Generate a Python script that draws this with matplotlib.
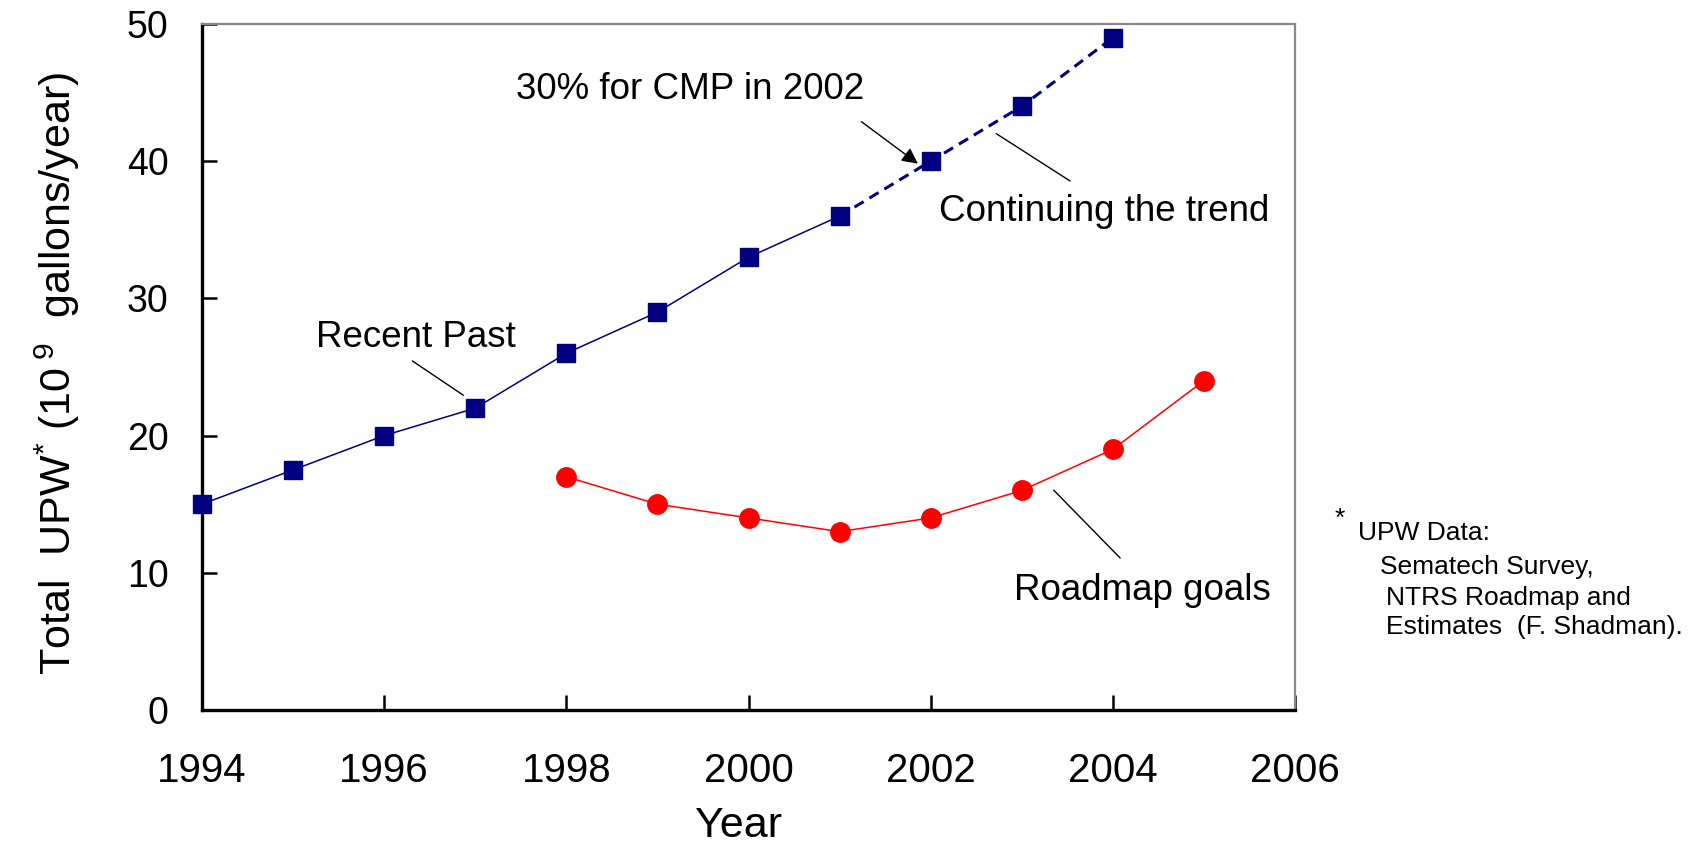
import matplotlib
matplotlib.use("Agg")
import matplotlib.pyplot as plt

# ---- data ----
years_trend = [1994, 1995, 1996, 1997, 1998, 1999, 2000, 2001, 2002, 2003, 2004]
upw_trend = [15, 17.5, 20, 22, 26, 29, 33, 36, 40, 44, 49]
split_year_index = 7  # solid up to 2001, dashed afterwards
years_goal = [1998, 1999, 2000, 2001, 2002, 2003, 2004, 2005]
upw_goal = [17, 15, 14, 13, 14, 16, 19, 24]
xticks = [1994, 1996, 1998, 2000, 2002, 2004, 2006]
yticks = [0, 10, 20, 30, 40, 50]

font = "Liberation Sans"
plt.rcParams["font.family"] = [font, "DejaVu Sans"]
plt.rcParams["mathtext.fontset"] = "custom"
plt.rcParams["mathtext.rm"] = font
plt.rcParams["mathtext.it"] = font

W, H = 1689, 847
fig = plt.figure(figsize=(W / 100, H / 100), dpi=100)
ax = fig.add_axes([202 / W, 1 - 710 / H, (1295 - 202) / W, (710 - 24) / H])

navy = "#000080"
red = "#FF0000"

ax.plot(years_trend[:split_year_index + 1], upw_trend[:split_year_index + 1],
        color=navy, lw=1.1, zorder=2)
ax.plot(years_trend[split_year_index:], upw_trend[split_year_index:],
        color=navy, lw=2.2, ls=(0, (3.5, 2.2)), zorder=2)
ax.plot(years_trend, upw_trend, ls="none", marker="s", ms=13.5,
        color=navy, zorder=3, clip_on=False)
ax.plot(years_goal, upw_goal, color=red, lw=1.1, marker="o", ms=14,
        markerfacecolor=red, markeredgecolor=red, zorder=3)

ax.set_xlim(1994, 2006)
ax.set_ylim(0, 50)
ax.set_xticks(xticks)
ax.set_yticks(yticks)
ax.set_xticklabels([str(v) for v in xticks], fontsize=29)
ax.set_yticklabels([str(v) for v in yticks], fontsize=27)
ax.tick_params(axis="x", direction="in", length=11, width=1.8, pad=30,
               top=False)
ax.tick_params(axis="y", direction="in", length=11, width=1.8, pad=24,
               right=False)

for s in ("left", "bottom"):
    ax.spines[s].set_color("black")
    ax.spines[s].set_linewidth(2.4)
for s in ("top", "right"):
    ax.spines[s].set_color("#888888")
    ax.spines[s].set_linewidth(1.6)

ax.set_xlabel("Year", fontsize=31, va="bottom")
ax.xaxis.set_label_coords((739 - 202) / 1093, -(846 - 710) / 686)
ax.set_ylabel(r"Total  UPW$^{*}$ (10$^{\ 9}$  gallons/year)",
              fontsize=31, va="baseline", ha="center")
ax.yaxis.set_label_coords(-(202 - 71) / 1093, (710 - 373) / 686)

tf = dict(fontsize=26.5, ha="center", va="center")
ax.text(1996.35, 27.17, "Recent Past", **tf)
ax.text(1999.36, 45.23, "30% for CMP in 2002", **tf)
ax.text(2003.90, 36.36, "Continuing the trend", **tf)
ax.text(2004.32, 8.73, "Roadmap goals", **tf)

line = dict(arrowstyle="-", color="black", lw=1, shrinkA=0, shrinkB=0)
ax.annotate("", xy=(1996.87, 22.94), xytext=(1996.31, 25.44), arrowprops=line)
ax.annotate("", xy=(2001.86, 39.82), xytext=(2001.24, 42.88),
            arrowprops=dict(arrowstyle="-|>", color="black", lw=1,
                            mutation_scale=24, shrinkA=0, shrinkB=0))
ax.annotate("", xy=(2002.72, 42.01), xytext=(2003.53, 38.56), arrowprops=line)
ax.annotate("", xy=(2003.35, 16.03), xytext=(2004.08, 11.08), arrowprops=line)

ff = dict(fontsize=19, ha="left", va="baseline")
fig.text(1335 / W, 1 - 526 / H, "*", **ff)
fig.text(1358 / W, 1 - 540 / H, "UPW Data:", **ff)
fig.text(1380 / W, 1 - 574 / H, "Sematech Survey,", **ff)
fig.text(1386 / W, 1 - 605 / H, "NTRS Roadmap and", **ff)
fig.text(1386 / W, 1 - 634 / H, "Estimates  (F. Shadman).", **ff)

fig.savefig("out.png", dpi=100)
